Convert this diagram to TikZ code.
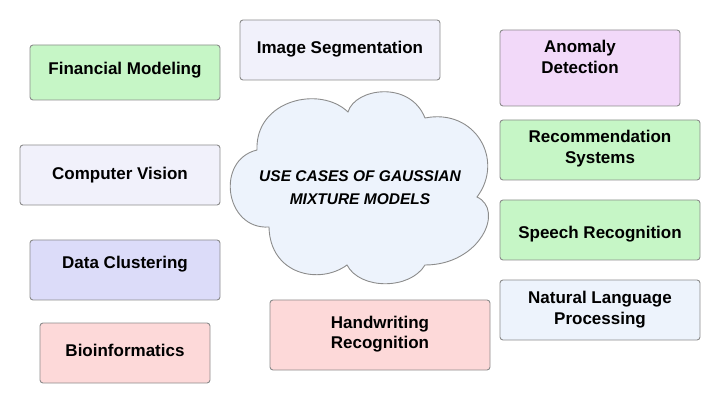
\documentclass[tikz,border=0pt]{standalone}
\usepackage{fontspec}
\setmainfont{Liberation Sans}
\usepackage{xcolor}
\usepackage{tikz}

\definecolor{cardline}{HTML}{8C8C8C}
\definecolor{cardgreen}{HTML}{C6F6C6}
\definecolor{cardlav}{HTML}{F1F1FB}
\definecolor{cardpurple}{HTML}{F2D9F9}
\definecolor{cardblue}{HTML}{DCDCF9}
\definecolor{cardpink}{HTML}{FDD9D9}
\definecolor{cardsky}{HTML}{EDF3FC}

\begin{document}
\begin{tikzpicture}[x=1pt, y=-1pt,
  card/.style={draw=cardline, line width=0.9pt, rounded corners=3pt},
  caselabel/.style={font=\bfseries\fontsize{17}{20.5}\selectfont, align=center, anchor=base, inner sep=0pt},
  cloudlabel/.style={font=\bfseries\itshape\fontsize{15.5}{23.3}\selectfont, align=center, anchor=base, inner sep=0pt}]

\useasboundingbox (0,0) rectangle (720,403);

% the cloud in the middle
\draw[draw=cardline, line width=0.9pt, fill=cardsky]
  (257,150) .. controls (255,100) and (320,85) .. (348,112)
            .. controls (355,88) and (410,80) .. (425,118)
            .. controls (475,108) and (505,160) .. (477,197)
            .. controls (505,210) and (480,265) .. (425,265)
            .. controls (410,290) and (360,290) .. (347,265)
            .. controls (320,285) and (270,275) .. (269,227)
            .. controls (225,230) and (215,160) .. (257,150) -- cycle;
% (base of a two-line node = baseline of its last line)
\node[cloudlabel] (title) at (360,205) {USE CASES OF GAUSSIAN\\MIXTURE MODELS};

% left column
\draw[card, fill=cardgreen]  (30,45)  rectangle (220,100);
\draw[card, fill=cardlav]    (20,145) rectangle (220,205);
\draw[card, fill=cardblue]   (30,240) rectangle (220,300);
\draw[card, fill=cardpink]   (40,323) rectangle (210,383);

\node[caselabel] (finance)  at (125,75)    {Financial Modeling};
\node[caselabel] (vision)   at (120,179.3) {Computer Vision};
\node[caselabel] (cluster)  at (125,269)   {Data Clustering};
\node[caselabel] (bioinfo)  at (125,356.7) {Bioinformatics};

% middle column
\draw[card, fill=cardlav]    (240,20)  rectangle (440,80);
\draw[card, fill=cardpink]   (270,300) rectangle (490,370);

\node[caselabel] (segment)  at (340,53.3)  {Image Segmentation};
\node[caselabel] (hand)     at (380,348.5) {Handwriting\\Recognition};

% right column
\draw[card, fill=cardpurple] (500,30)  rectangle (680,106);
\draw[card, fill=cardgreen]  (500,120) rectangle (700,180);
\draw[card, fill=cardgreen]  (500,200) rectangle (700,260);
\draw[card, fill=cardsky]    (500,280) rectangle (700,340);

\node[caselabel] (anomaly)  at (580,73.5)  {Anomaly\\Detection};
\node[caselabel] (recommend) at (600,163.5) {Recommendation\\Systems};
\node[caselabel] (speech)   at (600,239)   {Speech Recognition};
\node[caselabel] (nlp)      at (600,324)   {Natural Language\\Processing};

\end{tikzpicture}
\end{document}
